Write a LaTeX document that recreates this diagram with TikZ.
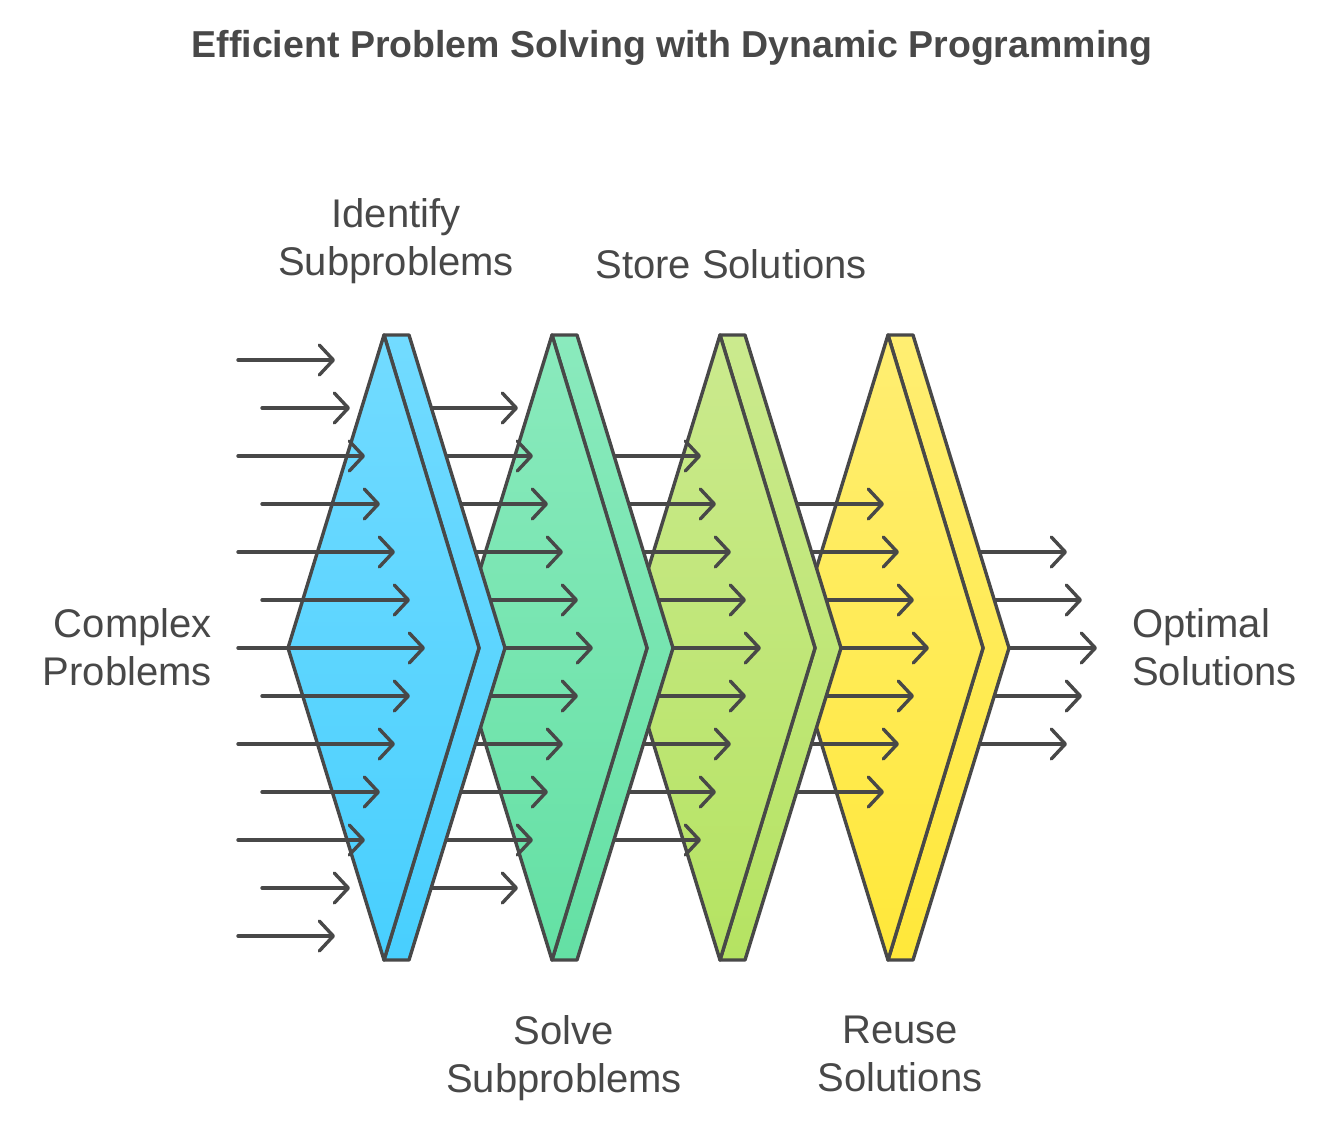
\documentclass[tikz,border=0pt]{standalone}
\usepackage{fontspec}
\setmainfont{Liberation Sans}
\usetikzlibrary{arrows.meta}
\definecolor{ink}{HTML}{484848}
\definecolor{ct0}{HTML}{72DBFF}\definecolor{cb0}{HTML}{48CFFE}
\definecolor{ct1}{HTML}{8AEABD}\definecolor{cb1}{HTML}{64E0A4}
\definecolor{ct2}{HTML}{CBEA8E}\definecolor{cb2}{HTML}{B5E362}
\definecolor{ct3}{HTML}{FFEE72}\definecolor{cb3}{HTML}{FFE83A}
\tikzset{
  flow/.style={ink, line width=3.4pt, line cap=round,
    -{Straight Barb[length=14pt,width=30pt,round]}},
  chev/.style={draw=ink, line width=3.4pt, line join=round},
  lbl/.style={text=ink, font=\fontsize{40}{48}\selectfont, inner sep=0pt},
  lbltwo/.style={lbl, text depth=9pt},
}
\begin{document}
\begin{tikzpicture}[x=1pt,y=-1pt]
\useasboundingbox (0,0) rectangle (1344,1128);
\node[text=ink, inner sep=0pt, font=\bfseries\fontsize{37.5}{44}\selectfont] (title) at (672,48) {Efficient Problem Solving with Dynamic Programming};
\foreach \j in {4,3,2,1,0}{
  \pgfmathtruncatemacro{\kmax}{12-\j}
  \foreach \k in {\j,...,\kmax}{
    \pgfmathsetmacro{\yy}{648+48*(\k-6)}
    \pgfmathsetmacro{\xe}{425-15*abs(\k-6)+168*\j}
    \ifnum\j=0
      \pgfmathsetmacro{\xs}{mod(\k,2)==1 ? 262 : 238}
    \else
      \pgfmathsetmacro{\xs}{400+168*(\j-1)}
    \fi
    \draw[flow] (\xs,\yy) -- (\xe,\yy);
  }
  \ifnum\j>0
    \pgfmathtruncatemacro{\c}{\j-1}
    \pgfmathsetmacro{\dx}{168*(\j-1)}
    \path[chev, top color=ct\c, bottom color=cb\c]
      ({384+\dx},335) -- ({409+\dx},335) -- ({505+\dx},648) -- ({409+\dx},960)
      -- ({384+\dx},960) -- ({479+\dx},648) -- cycle;
    \path[chev, top color=ct\c, bottom color=cb\c]
      ({384+\dx},335) -- ({479+\dx},648) -- ({384+\dx},960) -- ({288+\dx},648) -- cycle;
  \fi
}
\node[lbltwo, align=center] (identify) at (396,242) {Identify\\Subproblems};
\node[lbl] (store) at (731,264) {Store Solutions};
\node[lbltwo, align=right, anchor=east] (complex) at (212,651) {Complex\\Problems};
\node[lbltwo, align=left, anchor=west] (optimal) at (1132,651) {Optimal\\Solutions};
\node[lbltwo, align=center] (solve) at (564,1058) {Solve\\Subproblems};
\node[lbltwo, align=center] (reuse) at (900,1058) {Reuse\\Solutions};
\end{tikzpicture}
\end{document}
